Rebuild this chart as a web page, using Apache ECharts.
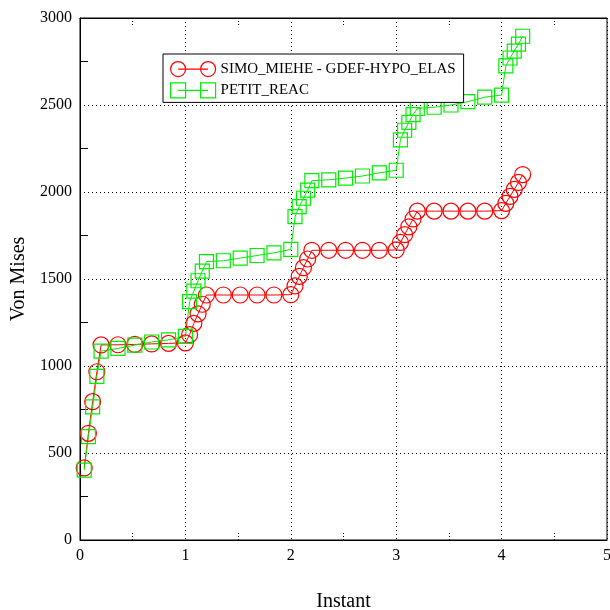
<!DOCTYPE html>
<html><head><meta charset="utf-8">
<script src="https://cdn.jsdelivr.net/npm/echarts@6/dist/echarts.min.js"></script>
<style>html,body{margin:0;padding:0;background:#fff}#c{width:610px;height:610px}</style>
</head><body><div id="c"></div>
<script>
const instants = [0.04,0.08,0.12,0.16,0.2,0.36,0.52,0.68,0.84,1.0,
  1.04,1.08,1.12,1.16,1.2,1.36,1.52,1.68,1.84,2.0,
  2.04,2.08,2.12,2.16,2.2,2.36,2.52,2.68,2.84,3.0,
  3.04,3.08,3.12,3.16,3.2,3.36,3.52,3.68,3.84,4.0,
  4.04,4.08,4.12,4.16,4.2];
const simoMiehe = [414,613,795,967,1121,1122,1124,1127,1130,1133,
  1180,1245,1300,1355,1408,1408,1408,1408,1408,1410,
  1460,1515,1565,1615,1665,1665,1665,1665,1665,1667,
  1710,1755,1800,1845,1890,1890,1890,1890,1890,1893,
  1935,1975,2015,2055,2100];
const petitReac = [402,594,765,940,1086,1101,1120,1138,1150,1170,
  1370,1430,1490,1545,1600,1605,1620,1635,1650,1670,
  1858,1916,1964,2011,2065,2070,2080,2092,2110,2125,
  2300,2355,2400,2445,2480,2487,2500,2519,2545,2557,
  2725,2770,2810,2850,2895];
const seriesNames = ['SIMO_MIEHE - GDEF-HYPO_ELAS', 'PETIT_REAC'];
const xName = 'Instant';
const yName = 'Von Mises';

const FONT = 'Liberation Serif';
const RED = '#ff0000', GREEN = '#00ee00';
const circleIcon = 'path://M0.75,8A7.25,7.25,0,1,1,15.25,8A7.25,7.25,0,1,1,0.75,8ZM8,8L37,8M29.75,8A7.25,7.25,0,1,1,44.25,8A7.25,7.25,0,1,1,29.75,8Z';
const squareIcon = 'path://M0.75,0.75L15.25,0.75L15.25,15.25L0.75,15.25ZM8,8L37,8M29.75,0.75L44.25,0.75L44.25,15.25L29.75,15.25Z';

const chart = echarts.init(document.getElementById('c'), null, {renderer: 'canvas'});
const axisCommon = {
  type: 'value',
  axisLine: {show: true, lineStyle: {color: '#000', width: 1}},
  axisTick: {show: false, inside: true},
  axisLabel: {color: '#000', fontFamily: FONT, fontSize: 16, margin: 8, formatter: v => String(v)},
  nameTextStyle: {color: '#000', fontFamily: FONT, fontSize: 20},
  splitLine: {show: true, lineStyle: {color: '#000', type: [1, 3], width: 1}}
};
chart.setOption({
  animation: false,
  backgroundColor: '#fff',
  grid: {left: 80, right: 3, top: 18, bottom: 70, show: true, borderColor: '#000', borderWidth: 1,
         backgroundColor: 'transparent', outerBoundsMode: 'none', containLabel: false},
  legend: {
    orient: 'vertical', left: 163, top: 54,
    itemWidth: 45, itemHeight: 16, itemGap: 5,
    padding: [7, 8, 4, 7],
    backgroundColor: '#fff', borderColor: '#000', borderWidth: 1,
    textStyle: {color: '#000', fontFamily: FONT, fontSize: 15},
    data: [
      {name: seriesNames[0], icon: circleIcon, itemStyle: {color: 'rgba(0,0,0,0)', borderColor: RED, borderWidth: 1.2}},
      {name: seriesNames[1], icon: squareIcon, itemStyle: {color: 'rgba(0,0,0,0)', borderColor: GREEN, borderWidth: 1.2}}
    ]
  },
  xAxis: [
    Object.assign({}, axisCommon, {
      min: 0, max: 5, interval: 1, position: 'bottom',
      name: xName, nameLocation: 'middle', nameGap: 52,
      minorTick: {show: true, splitNumber: 2, length: 8, lineStyle: {color: '#000', type: [1, 2]}}
    }),
    {
      type: 'value', min: 0, max: 5, interval: 1, position: 'top',
      axisLine: {show: true, lineStyle: {color: '#000', width: 1}},
      axisTick: {show: false, inside: true},
      axisLabel: {show: false}, splitLine: {show: false},
      minorTick: {show: true, splitNumber: 2, length: 8, lineStyle: {color: '#000', type: [1, 2]}}
    }
  ],
  yAxis: Object.assign({}, axisCommon, {
    min: 0, max: 3000, interval: 500,
    name: yName, nameLocation: 'middle', nameGap: 46,
    minorTick: {show: true, splitNumber: 2, length: 8, lineStyle: {color: '#000'}}
  }),
  series: [
    {
      name: seriesNames[0], type: 'line',
      data: instants.map((t, i) => [t, simoMiehe[i]]),
      symbol: 'circle', symbolSize: 16,
      itemStyle: {color: 'rgba(0,0,0,0)', borderColor: RED, borderWidth: 1.2},
      lineStyle: {color: RED, width: 1},
      emphasis: {disabled: true}
    },
    {
      name: seriesNames[1], type: 'line',
      data: instants.map((t, i) => [t, petitReac[i]]),
      symbol: 'rect', symbolSize: 14,
      itemStyle: {color: 'rgba(0,0,0,0)', borderColor: GREEN, borderWidth: 1.2},
      lineStyle: {color: GREEN, width: 1},
      emphasis: {disabled: true}
    }
  ]
});
</script>
</body></html>
